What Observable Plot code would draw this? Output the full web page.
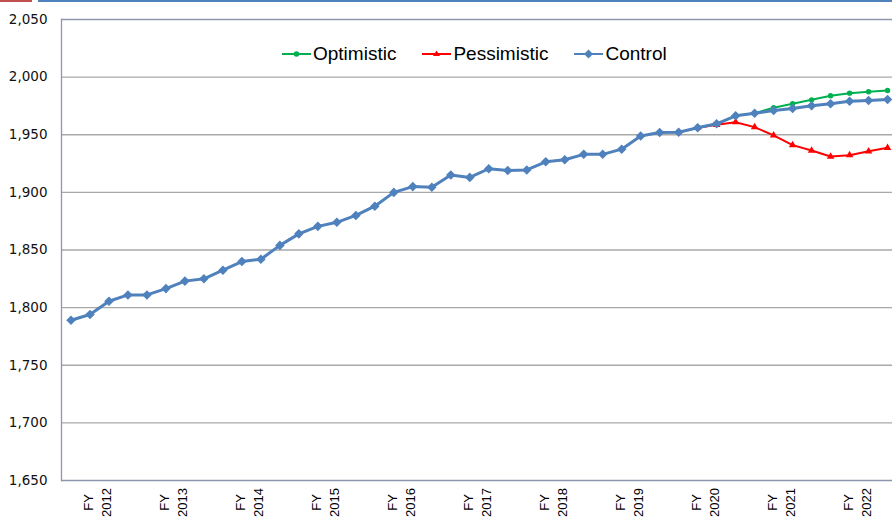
<!DOCTYPE html>
<html><head><meta charset="utf-8">
<script src="https://cdn.jsdelivr.net/npm/d3@7"></script>
<script src="https://cdn.jsdelivr.net/npm/@observablehq/plot@0.6"></script>
<style>
body{margin:0;background:#fff;}
#wrap{position:relative;width:892px;height:527px;overflow:hidden;background:#fff;}
#wrap svg.plot{position:absolute;left:0;top:0;}
.bar{position:absolute;top:0;height:2px;}
#legend{position:absolute;left:282px;top:43px;display:flex;gap:26px;font-family:"Liberation Sans",Arial,sans-serif;font-size:19px;line-height:22px;color:#000;}
.item{display:flex;align-items:center;}
.item svg{margin-right:2px;}
</style></head><body>
<div id="wrap">
<div class="bar" style="left:0;width:32px;background:#C0504D"></div>
<div class="bar" style="left:38px;width:854px;background:#4F81BD"></div>
<div id="legend"></div>
</div>
<script>
// ---- data ----
const fiscalYears = ["2012","2013","2014","2015","2016","2017","2018","2019","2020","2021","2022"];
const quarters = ["Q1","Q2","Q3","Q4"];
const labelQuarter = "Q3";
const control = [
  1789, 1794, 1805.5, 1811, 1811, 1816.5, 1823, 1825, 1832.5, 1840, 1842,
  1854, 1864, 1870.5, 1874, 1880, 1888, 1900, 1905, 1904.5, 1915, 1913,
  1920.5, 1919, 1919.5, 1926.5, 1928.3, 1933, 1933, 1937.5, 1949, 1952,
  1952.2, 1956, 1959.5, 1966.4, 1968.7, 1971, 1972.8, 1975.1, 1976.9, 1979, 1979.7, 1980.6
];
const scenarioStart = "2020 Q2";
const optimistic = [1956, 1959.5, 1966.4, 1968.7, 1973.4, 1976.9, 1980.3, 1983.8, 1986.1, 1987.3, 1988.4];
const pessimistic = [1956, 1958.6, 1960.9, 1956.6, 1949.4, 1941, 1936.3, 1931.1, 1932.3, 1935.7, 1938.7];
const yTicks = [1650, 1700, 1750, 1800, 1850, 1900, 1950, 2000, 2050];
const seriesNames = ["Optimistic", "Pessimistic", "Control"];
const seriesColors = ["#00B050", "#FF0000", "#4F81BD"];

// ---- build tables ----
const categories = fiscalYears.flatMap(y => quarters.map(q => `${y} ${q}`));
const startIdx = categories.indexOf(scenarioStart);
const ctrlRows = control.map((v, i) => ({i, v}));
const optRows = optimistic.map((v, k) => ({i: startIdx + k, v}));
const pesRows = pessimistic.map((v, k) => ({i: startIdx + k, v}));
const labelRows = fiscalYears.map(y => ({i: categories.indexOf(`${y} ${labelQuarter}`), year: y}));

const frameColor = "#8A97AD";
const font = "Liberation Sans, Arial, sans-serif";

const chart = Plot.plot({
  width: 892, height: 527,
  marginLeft: 61, marginRight: 0, marginTop: 19, marginBottom: 47,
  x: {domain: [-0.5, categories.length - 0.74], axis: null},
  y: {domain: [yTicks[0], yTicks[yTicks.length - 1]]},
  style: {background: "transparent", overflow: "visible"},
  marks: [
    Plot.ruleY(yTicks.slice(1, -1), {stroke: "#A9A9A9", strokeWidth: 1.3}),
    Plot.ruleY(yTicks.slice(0, 1).concat(yTicks.slice(-1)), {stroke: frameColor, strokeWidth: 1.3}),
    Plot.frame({anchor: "left", stroke: frameColor, strokeWidth: 1.3}),
    Plot.axisY({ticks: yTicks, tickFormat: d3.format(","), tickSize: 0, tickPadding: 14,
      fontSize: 13.5, fontFamily: "DejaVu Sans, sans-serif", fill: "#111", label: null}),
    Plot.text(labelRows, {x: "i", text: "year", frameAnchor: "bottom", dy: 22, dx: 2, rotate: -90,
      textAnchor: "middle", fontSize: 13, fontFamily: font, fill: "#000"}),
    Plot.text(labelRows, {x: "i", text: () => "FY", frameAnchor: "bottom", dy: 22, dx: -16, rotate: -90,
      textAnchor: "middle", fontSize: 13, fontFamily: font, fill: "#000"}),
    Plot.lineY(optRows, {x: "i", y: "v", stroke: seriesColors[0], strokeWidth: 2}),
    Plot.dot(optRows, {x: "i", y: "v", r: 2.7, fill: seriesColors[0], symbol: "circle"}),
    Plot.lineY(pesRows, {x: "i", y: "v", stroke: seriesColors[1], strokeWidth: 2}),
    Plot.dot(pesRows, {x: "i", y: "v", r: 2.8, fill: seriesColors[1], symbol: "triangle"}),
    Plot.lineY(ctrlRows, {x: "i", y: "v", stroke: seriesColors[2], strokeWidth: 3}),
    Plot.dot(ctrlRows, {x: "i", y: "v", r: 4.3, fill: seriesColors[2], symbol: "diamond2"})
  ]
});
chart.classList.add("plot");
document.getElementById("wrap").prepend(chart);

// ---- legend ----
const legend = document.getElementById("legend");
const markerSvg = [
  c => `<circle cx="14.5" cy="10" r="2.8" fill="${c}"/>`,
  c => `<path d="M14.5,6.5 L18,12 L11,12 Z" fill="${c}"/>`,
  c => `<path d="M14.5,5.5 L19,10 L14.5,14.5 L10,10 Z" fill="${c}"/>`
];
seriesNames.forEach((name, k) => {
  const item = document.createElement("div");
  item.className = "item";
  item.innerHTML = `<svg width="29" height="20"><line x1="0" x2="29" y1="10" y2="10" stroke="${seriesColors[k]}" stroke-width="2"/>${markerSvg[k](seriesColors[k])}</svg><span>${name}</span>`;
  legend.appendChild(item);
});
</script>
</body></html>
